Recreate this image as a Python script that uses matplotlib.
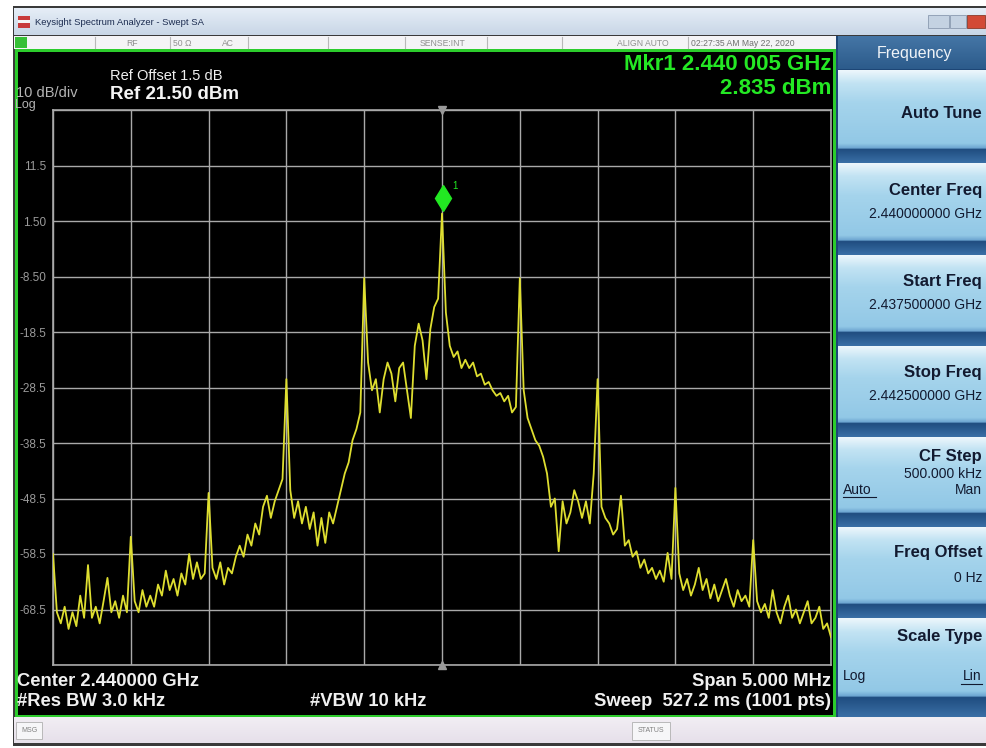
import numpy as np
import matplotlib
matplotlib.use('Agg')
import matplotlib.pyplot as plt
from matplotlib.patches import Rectangle
import matplotlib.transforms as mtransforms

plt.rcParams['font.family'] = ['Liberation Sans', 'DejaVu Sans']

# ---------------- data ----------------
center_ghz = 2.440
span_mhz = 5.0
ref_level_dbm = 21.5
db_per_div = 10
n_div = 10
# sweep grid (25 kHz bins across the 5 MHz span)
freq_offset_mhz = np.linspace(-span_mhz / 2, span_mhz / 2, 201)
level_dbm = [
    -58.5, -69, -71, -68, -72, -69, -71.5, -66, -70, -60.5, -70, -68, -71, -67, -62.8, -69, -67, -70, -66, -69, -55.4,
    -67, -69, -65, -68, -66, -68, -64, -66, -61.5, -65, -63, -66, -62, -64, -58.5, -63, -60, -63, -62, -47.5,
    -61, -63, -60, -64, -61, -62, -59, -57, -59, -55, -57, -53, -55, -50, -48, -52, -49, -47, -45, -27,
    -47, -52, -49, -53, -50, -54, -51, -57, -52, -56.5, -51, -53, -50, -47, -44, -42, -38, -36, -33, -8.8,
    -24, -29, -27, -33, -27, -24, -26, -31, -25, -24, -29, -34, -21, -17, -20, -27, -18, -14, -12.5, 2.835,
    -15, -21, -23, -22, -25, -23.5, -25, -24, -26.5, -26, -28, -27.5, -29, -30, -29.5, -31, -30, -33, -32, -8.8,
    -29, -34, -36, -38, -39, -41, -44, -50, -48.5, -58, -49, -53, -51, -47, -49, -52, -49, -53, -44, -27,
    -50, -52, -53, -55, -54, -48, -57, -56, -59, -58, -61, -59.5, -62, -61, -63, -61.5, -63.5, -58.3, -63, -46.6,
    -62, -65, -63, -66, -64, -61, -65, -63, -66.5, -64, -67, -65, -63, -66, -68, -65, -67, -66, -68, -56,
    -67, -69, -67.5, -70, -65, -69, -71, -68, -66, -70, -68.5, -71, -69, -67, -71, -70, -68, -72, -71, -73.5,
]
ytick_labels = ['11.5', '1.50', '-8.50', '-18.5', '-28.5', '-38.5', '-48.5', '-58.5', '-68.5']
marker_freq_mhz = 0.005
marker_level_dbm = 2.835

softkey_titles = ['Auto Tune', 'Center Freq', 'Start Freq', 'Stop Freq', 'CF Step', 'Freq Offset', 'Scale Type']
softkey_values = ['', '2.440000000 GHz', '2.437500000 GHz', '2.442500000 GHz', '500.000 kHz', '0 Hz', '']

# ---------------- figure ----------------
W, H = 986, 748
fig = plt.figure(figsize=(W / 100, H / 100), dpi=100)
fig.patch.set_facecolor('white')

bg = fig.add_axes([0, 0, 1, 1], zorder=0)
bg.axis('off')


def rect(x0, y0, x1, y1, color, z=1, ec='none', lw=0):
    bg.add_patch(Rectangle((x0, y0), x1 - x0, y1 - y0, facecolor=color,
                           edgecolor=ec, linewidth=lw, zorder=z))


def vgrad(x0, y0, x1, y1, stops, z=1):
    t = np.linspace(0, 1, 300)
    fr = [s[0] for s in stops]
    cols = np.array([matplotlib.colors.to_rgb(s[1]) for s in stops])
    arr = np.stack([np.interp(t, fr, cols[:, k]) for k in range(3)], axis=-1)[:, None, :]
    bg.imshow(arr, extent=(x0, x1, y1, y0), aspect='auto', zorder=z, interpolation='bilinear')


def txt(x, y, s, size, color, ha='left', weight='normal', z=5, **kw):
    bg.text(x, y, s, fontsize=size, color=color, ha=ha, va='center',
            fontweight=weight, zorder=z, **kw)


# window frame
rect(13, 6, 986, 746, '#3a3a3a', z=0.5)
# title bar
vgrad(14, 8, 986, 35, [(0, '#e6eef7'), (1, '#c8d6e6')], z=1)
rect(18, 16, 30, 28, '#c83a3a', z=2)
rect(18, 20, 30, 23, '#f4f4f4', z=2.1)
txt(35, 22, 'Keysight Spectrum Analyzer - Swept SA', 6.8, '#1c2c50')
rect(928, 15, 949, 28, '#c4d2e2', z=2, ec='#8a9ab0', lw=0.6)
rect(950, 15, 966, 28, '#c4d2e2', z=2, ec='#8a9ab0', lw=0.6)
rect(967, 15, 985, 28, '#d24a36', z=2, ec='#8a3a2a', lw=0.6)
# status row
rect(14, 36, 836, 49, '#f4f4f6', z=1)
for sx in [95, 170, 248, 328, 405, 487, 562, 688]:
    bg.plot([sx, sx], [37, 48], color='#b8b8b8', lw=0.8, zorder=2)
rect(15, 37, 27, 48, '#36c036', z=2)
for sx, s in [(132, 'RF'), (182, '50 Ω'), (228, 'AC'), (443, 'SENSE:INT'), (643, 'ALIGN AUTO')]:
    txt(sx, 43, s, 6.2, '#909090', ha='center')
txt(691, 43, '02:27:35 AM May 22, 2020', 6.2, '#707070')

# green frame + black display
rect(15, 49, 836, 717, '#2ccc2c', z=1)
rect(17.5, 51.5, 833, 715, 'black', z=1.2)

# right softkey panel
rect(836, 36, 986, 717, '#1d4676', z=1)
vgrad(838, 36, 986, 69, [(0, '#4576a6'), (1, '#2c5b8b')], z=1.5)
txt(914, 53, 'Frequency', 11.5, '#f0f4f8', ha='center')
key_tops = [70, 163, 255, 346, 437, 527, 618]
key_bottoms = [163, 255, 346, 437, 527, 618, 717]
title_y = [113, 190, 281, 372, 456, 552, 636]
value_y = [0, 214, 305, 396, 474, 578, 0]
for k, (kt, kb) in enumerate(zip(key_tops, key_bottoms)):
    h = kb - kt
    band = 14.0 / h if k < 6 else 20.0 / h
    vgrad(838, kt, 986, kb, [(0, '#eef7fc'), (0.14, '#c2e3f3'), (0.35, '#a5d4ec'),
                             (1 - band - 0.06, '#92c8e6'), (1 - band - 0.005, '#6aa2cf'),
                             (1 - band, '#1f4c7f'), (1, '#3a6fa6')], z=1.5)
    txt(982, title_y[k], softkey_titles[k], 12, '#121a30', ha='right', weight='bold')
    if softkey_values[k]:
        txt(982, value_y[k], softkey_values[k], 10, '#121a30', ha='right')
txt(843, 490, 'Auto', 10, '#121a30')
bg.plot([843, 876], [497, 497], color='#121a30', lw=0.8, zorder=5)
txt(982, 490, 'Man', 10, '#121a30', ha='right')
txt(843, 676, 'Log', 10, '#121a30')
txt(982, 676, 'Lin', 10, '#121a30', ha='right')
bg.plot([961, 982], [684, 684], color='#121a30', lw=0.8, zorder=5)

# bottom status bar
vgrad(14, 717, 986, 743, [(0, '#f2eef4'), (1, '#e6e0ea')], z=1)
rect(16, 722, 42, 739, '#f6f6f8', z=2, ec='#b0b0b0', lw=0.6)
txt(29, 730.5, 'MSG', 5, '#808080', ha='center')
rect(632, 722, 670, 740, '#f6f6f8', z=2, ec='#b0b0b0', lw=0.6)
txt(651, 731, 'STATUS', 5, '#808080', ha='center')

# display annotations
txt(16, 93, '10 dB/div', 10.5, '#b4b4b4')
txt(15, 105, 'Log', 9, '#b4b4b4')
txt(110, 76, 'Ref Offset 1.5 dB', 10.5, '#f0f0f0')
txt(110, 94, 'Ref 21.50 dBm', 13.5, '#f4f4f4', weight='bold')
txt(831, 64, 'Mkr1 2.440 005 GHz', 16, '#24e824', ha='right', weight='bold')
txt(831, 88, '2.835 dBm', 16, '#24e824', ha='right', weight='bold')
txt(17, 682, 'Center 2.440000 GHz', 13.2, '#f0f0f0', weight='bold')
txt(17, 702, '#Res BW 3.0 kHz', 13.2, '#f0f0f0', weight='bold')
txt(310, 702, '#VBW 10 kHz', 13.2, '#f0f0f0', weight='bold')
txt(831, 682, 'Span 5.000 MHz', 13.2, '#f0f0f0', ha='right', weight='bold')
txt(831, 702, 'Sweep  527.2 ms (1001 pts)', 13.2, '#f0f0f0', ha='right', weight='bold')

bg.set_xlim(0, W)
bg.set_ylim(H, 0)

# ---------------- spectrum axes ----------------
ax = fig.add_axes([53 / W, 1 - 665 / H, 778 / W, 555 / H], zorder=2)
ax.set_facecolor('black')
ax.set_xlim(-span_mhz / 2, span_mhz / 2)
bottom = ref_level_dbm - db_per_div * n_div
ax.set_ylim(bottom, ref_level_dbm)
ax.set_xticks(np.linspace(-span_mhz / 2, span_mhz / 2, n_div + 1))
ax.set_xticklabels([])
yt = [ref_level_dbm - db_per_div * k for k in range(n_div + 1)]
ax.set_yticks(yt)
ax.set_yticklabels([''] + ytick_labels + [''])
ax.tick_params(length=0, labelsize=8.5, labelcolor='#9a9a9a', pad=5)
ax.grid(True, color='#a9a9a9', lw=1.0)
ax.set_axisbelow(True)
for sp in ax.spines.values():
    sp.set_color('#a9a9a9')
    sp.set_linewidth(1.2)

ax.plot(freq_offset_mhz, level_dbm, color='#dede30', lw=1.3, zorder=3)

# centre-line triangles
ax.plot([0], [ref_level_dbm], marker='v', color='#9a9a9a', ms=6, clip_on=False, zorder=4)
ax.plot([0], [bottom], marker='^', color='#9a9a9a', ms=6, clip_on=False, zorder=4)

# marker 1
mk_tr = mtransforms.offset_copy(ax.transData, fig=fig, x=0, y=16, units='dots')
ax.plot([marker_freq_mhz], [marker_level_dbm], marker='d', color='#22e822', ms=13,
        transform=mk_tr, zorder=5, clip_on=False)
lab_tr = mtransforms.offset_copy(ax.transData, fig=fig, x=10, y=28, units='dots')
ax.text(marker_freq_mhz, marker_level_dbm, '1', color='#22e822', fontsize=7,
        transform=lab_tr, ha='left', va='center', zorder=5)

fig.savefig('out.png', dpi=100, facecolor='white')
